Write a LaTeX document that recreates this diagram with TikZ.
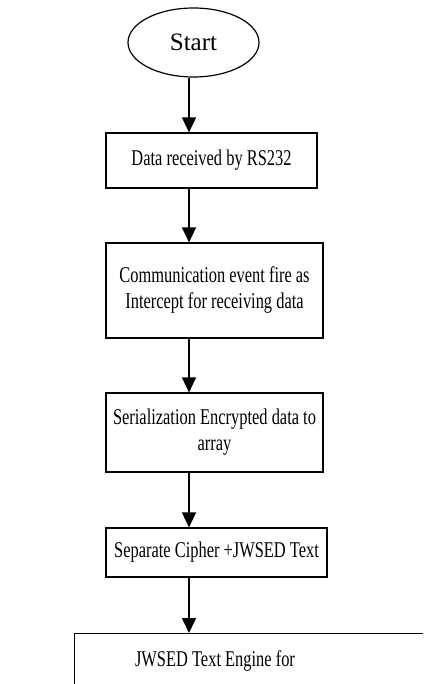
\documentclass[tikz,border=0pt]{standalone}
\usepackage{fontspec}
\setmainfont{Liberation Serif}
\newfontfamily\narrowserif[FakeStretch=0.73]{Liberation Serif}
\usetikzlibrary{shapes.geometric,arrows.meta}
\begin{document}
\begin{tikzpicture}[x=1pt,y=-1pt,
  lbl/.style={font=\narrowserif\fontsize{22.5}{26}\selectfont, align=center},
  stepbox/.style={lbl, draw, line width=1.2pt, rectangle, inner sep=0pt},
  startnode/.style={draw, line width=1.2pt, ellipse, inner sep=0pt,
    font=\fontsize{25}{28}\selectfont,
    minimum width=131pt, minimum height=69pt},
  flow/.style={line width=1.6pt, -{Triangle[length=15pt,width=14pt]}}]
\useasboundingbox (0,0) rectangle (423,684);
\clip (0,0) rectangle (423,684);
\fill[white] (0,0) rectangle (423,684);

\node[startnode] (start) at (193.5,42.5) {Start};
\node[stepbox, minimum width=211pt, minimum height=55pt] (rx) at (211.5,160.5)
  {Data received by RS232};
\node[stepbox, minimum width=217pt, minimum height=95pt] (ev) at (214.5,290.5)
  {Communication event fire as\\Intercept for receiving data};
\node[stepbox, minimum width=217pt, minimum height=79pt] (ser) at (214.5,432.5)
  {Serialization Encrypted data to\\array};
\node[stepbox, minimum width=221pt, minimum height=49pt] (sep) at (216.5,552.5)
  {Separate Cipher +JWSED Text};
% last step: the frame runs on past the right and bottom edges
\node[stepbox, anchor=north west, minimum width=380pt, minimum height=90pt]
  (eng) at (74,633) {};
\node[lbl, anchor=base] (englbl) at (215,666) {JWSED Text Engine for};

% connectors run down a common vertical at x = 189
\draw[flow] (189,0 |- start.south) -- (189,0 |- rx.north);
\draw[flow] (189,0 |- rx.south) -- (189,0 |- ev.north);
\draw[flow] (189,0 |- ev.south) -- (189,0 |- ser.north);
\draw[flow] (189,0 |- ser.south) -- (189,0 |- sep.north);
\draw[flow] (189,0 |- sep.south) -- (189,0 |- eng.north);
\end{tikzpicture}
\end{document}
